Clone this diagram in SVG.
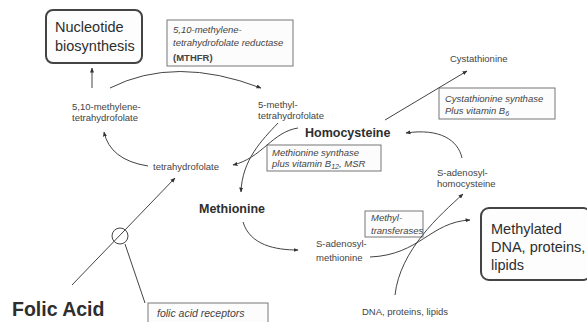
<svg xmlns="http://www.w3.org/2000/svg" width="587" height="322" viewBox="0 0 587 322">
<defs>
<marker id="ah" viewBox="0 0 10 10" refX="9" refY="5" markerWidth="5" markerHeight="5" orient="auto" markerUnits="userSpaceOnUse">
<path d="M0,1 L10,5 L0,9 Z" fill="#333"/>
</marker>
<style>
text{font-family:"Liberation Sans",Arial,sans-serif;fill:#444}
.s{font-size:9.5px}
.i{font-style:italic}
.b{font-weight:bold}
.big{font-size:14.5px;fill:#2e2e2e}
.mid{font-size:12.5px;font-weight:bold;fill:#2e2e2e}
.box{fill:#fcfcfc;stroke:#777;stroke-width:1}
.rbox{fill:#fdfdfd;stroke:#444;stroke-width:2}
.c path,.c line{fill:none;stroke:#444;stroke-width:1}
</style>
</defs>
<rect width="587" height="322" fill="#fff"/>

<g id="nucleotide">
<rect class="rbox" x="46" y="10" width="96" height="53" rx="7"/>
<text class="big" x="55" y="32">Nucleotide</text>
<text class="big" x="55" y="51">biosynthesis</text>
</g>

<g id="mthfr">
<rect class="box" x="167" y="20" width="126" height="46"/>
<text class="s i" x="173" y="33">5,10-methylene-</text>
<text class="s i" x="173" y="46">tetrahydrofolate reductase</text>
<text class="s b" x="173" y="61">(MTHFR)</text>
</g>

<g id="methylene">
<text class="s" x="72" y="110">5,10-methylene-</text>
<text class="s" x="72" y="121">tetrahydrofolate</text>
</g>

<g id="methyl-thf">
<text class="s" x="258" y="108">5-methyl-</text>
<text class="s" x="258" y="119">tetrahydrofolate</text>
</g>

<g id="homocysteine">
<text class="mid" x="305" y="137">Homocysteine</text>
</g>

<g id="cystathionine">
<text class="s" x="450" y="62">Cystathionine</text>
</g>

<g id="cbs">
<rect class="box" x="439" y="88" width="116" height="31"/>
<text class="s i" x="445" y="102">Cystathionine synthase</text>
<text class="s i" x="445" y="114">Plus vitamin B<tspan font-size="7" dy="2">6</tspan></text>
</g>

<g id="ms">
<rect class="box" x="267" y="145" width="114" height="26"/>
<text class="s i" x="272" y="156">Methionine synthase</text>
<text class="s i" x="272" y="167">plus vitamin B<tspan font-size="7" dy="2">12</tspan><tspan dy="-2">, MSR</tspan></text>
</g>

<g id="thf">
<text class="s" x="153" y="170">tetrahydrofolate</text>
</g>

<g id="methionine">
<text class="mid" x="199" y="213">Methionine</text>
</g>

<g id="sam">
<text class="s" x="316" y="247">S-adenosyl-</text>
<text class="s" x="316" y="261">methionine</text>
</g>

<g id="mt">
<rect class="box" x="365" y="211" width="58" height="26"/>
<text class="s i" x="371" y="221">Methyl-</text>
<text class="s i" x="371" y="234">transferases</text>
</g>

<g id="sah">
<text class="s" x="437" y="176">S-adenosyl-</text>
<text class="s" x="437" y="187">homocysteine</text>
</g>

<g id="methylated">
<rect class="rbox" x="481" y="208" width="110" height="72" rx="8"/>
<text class="big" x="491" y="234">Methylated</text>
<text class="big" x="491" y="252">DNA, proteins,</text>
<text class="big" x="491" y="270">lipids</text>
</g>

<g id="dna">
<text class="s" x="362" y="315">DNA, proteins, lipids</text>
</g>

<g id="folic">
<text x="12" y="316" style="font-size:19.5px;font-weight:bold;fill:#2e2e2e">Folic Acid</text>
</g>

<g id="receptors">
<rect class="box" x="148" y="303" width="120" height="22"/>
<text class="i" x="157" y="317" style="font-size:10.5px">folic acid receptors</text>
</g>

<g id="connectors" class="c">
<line x1="92" y1="88" x2="92" y2="68" marker-end="url(#ah)"/>
<path d="M110,88 Q175,55 261,88" marker-end="url(#ah)"/>
<path d="M148,166 Q110,160 104,132" marker-end="url(#ah)"/>
<path d="M298,128 C272,132 262,158 233,165" marker-end="url(#ah)"/>
<path d="M278,123 C262,140 242,160 241,192" marker-end="url(#ah)"/>
<line x1="385" y1="120" x2="467" y2="71" marker-end="url(#ah)"/>
<path d="M462,158 C458,140 440,128 406,133" marker-end="url(#ah)"/>
<path d="M243,222 C250,245 275,250 298,250" marker-end="url(#ah)"/>
<path d="M370,257 C420,255 430,222 470,220" marker-end="url(#ah)"/>
<path d="M395,295 C400,250 440,215 463,194" marker-end="url(#ah)"/>
<line x1="72" y1="285" x2="175" y2="178" marker-end="url(#ah)"/>
<circle cx="120" cy="236" r="8" fill="none" stroke="#444" stroke-width="1"/>
<line x1="125" y1="244" x2="145" y2="303"/>
</g>
</svg>
